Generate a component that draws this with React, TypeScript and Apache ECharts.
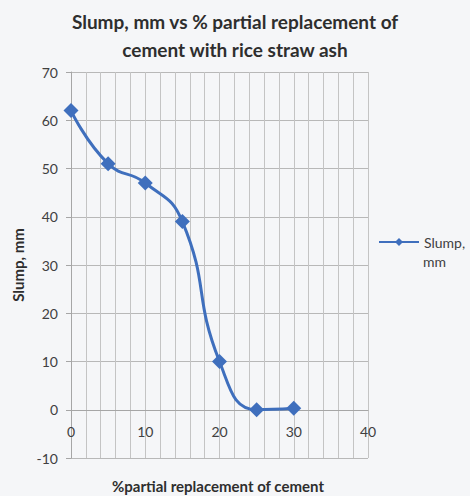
import React, { useEffect, useRef } from "react";
import * as echarts from "echarts";

const replacement = [0, 5, 10, 15, 20, 25, 30];
const slump = [62, 51, 47, 39, 10, 0, 0.3];
const seriesName = "Slump, mm";
const legendLine1 = "Slump,";
const legendLine2 = "mm";
const titleText = "Slump, mm vs % partial replacement of\ncement with rice straw ash";
const xTitle = "%partial replacement of cement";
const yTitle = "Slump, mm";

const FONT = "Lato, 'Open Sans', sans-serif";
const GRID_TOP = 72;
const GRID_BOTTOM = 38;
const Y_MIN = -10;
const Y_MAX = 70;

export default function App() {
  const ref = useRef<HTMLDivElement>(null);
  useEffect(() => {
    if (!ref.current) return;
    const chart = echarts.init(ref.current, null, { renderer: "svg" });
    const plotH = 496 - GRID_TOP - GRID_BOTTOM;
    const zeroOffset = (plotH * (0 - Y_MIN)) / (Y_MAX - Y_MIN);
    chart.setOption({
      animation: false,
      backgroundColor: "#f5f6f8",
      textStyle: { fontFamily: FONT },
      title: {
        text: titleText,
        left: "center",
        top: 2,
        textStyle: {
          fontFamily: FONT,
          fontSize: 19,
          fontWeight: "bold",
          color: "#2e2e2e",
          lineHeight: 28,
        },
      },
      legend: {
        left: 373,
        top: 230,
        orient: "vertical",
        itemWidth: 40,
        itemHeight: 10,
        itemGap: 0,
        formatter: () => legendLine1,
        textStyle: {
          fontFamily: FONT,
          fontSize: 14,
          color: "#404040",
        },
        data: [seriesName],
      },
      grid: { left: 71, right: 102, top: GRID_TOP, bottom: GRID_BOTTOM },
      xAxis: {
        type: "value",
        min: 0,
        max: 40,
        interval: 10,
        offset: -zeroOffset,
        axisLine: { show: true, onZero: false, lineStyle: { color: "#a6a6a6", width: 1 } },
        axisTick: { show: false },
        minorTick: { show: false, splitNumber: 5 },
        minorSplitLine: { show: true, lineStyle: { color: "#c4c4c4", width: 1 } },
        splitLine: { show: true, lineStyle: { color: "#c4c4c4", width: 1 } },
        axisLabel: { fontFamily: FONT, fontSize: 14, color: "#404040", margin: 15 },
      },
      yAxis: {
        type: "value",
        min: Y_MIN,
        max: Y_MAX,
        interval: 10,
        name: yTitle,
        nameLocation: "middle",
        nameRotate: 90,
        nameGap: 39,
        nameTextStyle: { fontFamily: FONT, fontSize: 15, fontWeight: "bold", color: "#2e2e2e" },
        axisLine: { show: true, onZero: false, lineStyle: { color: "#a6a6a6", width: 1 } },
        axisTick: { show: true, length: 5, lineStyle: { color: "#a6a6a6" } },
        splitLine: { show: true, lineStyle: { color: "#b8b8b8", width: 1 } },
        axisLabel: { fontFamily: FONT, fontSize: 14, color: "#404040", margin: 13 },
      },
      graphic: [
        {
          type: "text",
          x: 218,
          y: 486,
          style: {
            text: xTitle,
            align: "center",
            verticalAlign: "middle",
            fontFamily: FONT,
            fontSize: 15,
            fontWeight: "bold",
            fill: "#2e2e2e",
          },
        },
        {
          type: "text",
          x: 423,
          y: 261,
          style: {
            text: legendLine2,
            align: "left",
            verticalAlign: "middle",
            fontFamily: FONT,
            fontSize: 14,
            fill: "#404040",
          },
        },
      ],
      series: [
        {
          name: seriesName,
          type: "line",
          smooth: 0.5,
          symbol: "diamond",
          symbolSize: 15,
          data: replacement.map((x, i) => [x, slump[i]]),
          lineStyle: { color: "#3f6fbd", width: 3 },
          itemStyle: { color: "#3f6fbd" },
        },
      ],
    });
    return () => chart.dispose();
  }, []);
  return (
    <div
      ref={ref}
      style={{ position: "fixed", left: 0, top: 0, width: 470, height: 496 }}
    />
  );
}
